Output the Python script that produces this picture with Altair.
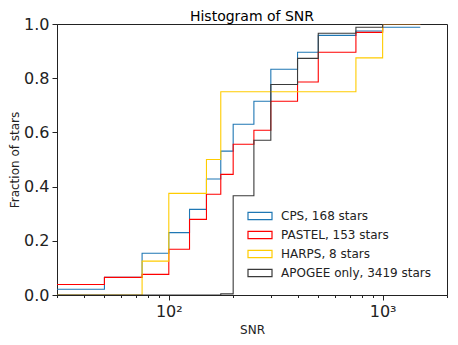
import altair as alt
import pandas as pd

# bin left edges (SNR) plus final right edge
edges = [20, 50, 75, 100, 125, 150, 175, 200, 250, 300, 400, 500, 750, 1000, 1500]

series_names = ["CPS, 168 stars", "PASTEL, 153 stars", "HARPS, 8 stars", "APOGEE only, 3419 stars"]
series_colors = ["#1f77b4", "#ff0000", "#ffcc00", "#3a3a3a"]

cps = [0.021, 0.065, 0.154, 0.230, 0.316, 0.428, 0.531, 0.630, 0.715, 0.833, 0.896, 0.958, 0.974, 0.988]
pastel = [0.039, 0.065, 0.076, 0.169, 0.279, 0.372, 0.445, 0.556, 0.608, 0.715, 0.786, 0.896, 0.969, 1.000]
harps = [0.0, 0.0, 0.125, 0.375, 0.375, 0.500, 0.750, 0.750, 0.750, 0.750, 0.750, 0.750, 0.875, 1.000]
apogee = [0.0, 0.0, 0.0, 0.0, 0.0, 0.0, 0.004, 0.366, 0.571, 0.777, 0.873, 0.966, 0.988, 1.000]

major_ticks = [100, 1000]
minor_ticks = [30, 40, 50, 60, 70, 80, 90, 200, 300, 400, 500, 600, 700, 800, 900, 2000]
y_ticks = [0.0, 0.2, 0.4, 0.6, 0.8, 1.0]

rows = []
for name, vals in zip(series_names, [cps, pastel, harps, apogee]):
    for i, v in enumerate(vals):
        rows.append({"snr": edges[i], "frac": v, "series": name})
    rows.append({"snr": edges[-1], "frac": vals[-1], "series": name})
df = pd.DataFrame(rows)

FONT = "DejaVu Sans"

xscale = alt.Scale(type="log", domain=[30, 2000], nice=False)

base = alt.Chart(df).mark_line(interpolate="step-after", strokeWidth=1.1, clip=True)

main = base.encode(
    x=alt.X("snr:Q", scale=xscale,
            axis=alt.Axis(values=major_ticks, title="SNR", tickSize=5,
                          labelExpr="datum.value == 100 ? '10²' : '10³'",
                          labelFontSize=16, labelPadding=3, titleFontSize=12,
                          titlePadding=5, orient="bottom")),
    y=alt.Y("frac:Q", scale=alt.Scale(domain=[0, 1], nice=False, zero=True),
            axis=alt.Axis(values=y_ticks, format=".1f", title="Fraction of stars",
                          labelFontSize=16, tickSize=5, labelPadding=3,
                          titleFontSize=12, titlePadding=2)),
    color=alt.Color("series:N", sort=series_names,
                    scale=alt.Scale(domain=series_names, range=series_colors),
                    legend=alt.Legend(title=None, orient="none", legendX=190, legendY=179,
                                      symbolType="M-1,-0.3H1V0.3H-1Z", symbolSize=576,
                                      symbolStrokeWidth=1.2, symbolFillColor="transparent",
                                      labelFontSize=12, labelOffset=8, rowPadding=-6.5,
                                      padding=0, labelFont=FONT)),
    order=alt.Order("series:N"),
)

minor = alt.Chart(df).mark_line(opacity=0).encode(
    x=alt.X("snr:Q", scale=xscale,
            axis=alt.Axis(values=minor_ticks, labels=False, title=None, tickSize=2.5,
                          domain=False, orient="bottom")),
    y=alt.Y("frac:Q"),
)

chart = alt.layer(main, minor).resolve_axis(x="independent").properties(
    width=390, height=271,
    title=alt.TitleParams("Histogram of SNR", fontSize=14, fontWeight="normal",
                          font=FONT, offset=6, dy=13.5, anchor="middle", frame="group"),
    autosize=alt.AutoSizeParams(type="none"),
    padding={"left": 49, "top": 16, "right": 3, "bottom": 42},
).configure_view(stroke="#222222", strokeWidth=1).configure_axis(
    grid=False, domainColor="#222222", tickColor="#222222", labelColor="#222222",
    titleColor="#222222", labelFont=FONT, titleFont=FONT, titleFontWeight="normal",
    domainWidth=1, tickWidth=1,
).configure_legend(labelColor="#222222")

chart.save("out.html", embed_options={"renderer": "svg", "actions": False})
